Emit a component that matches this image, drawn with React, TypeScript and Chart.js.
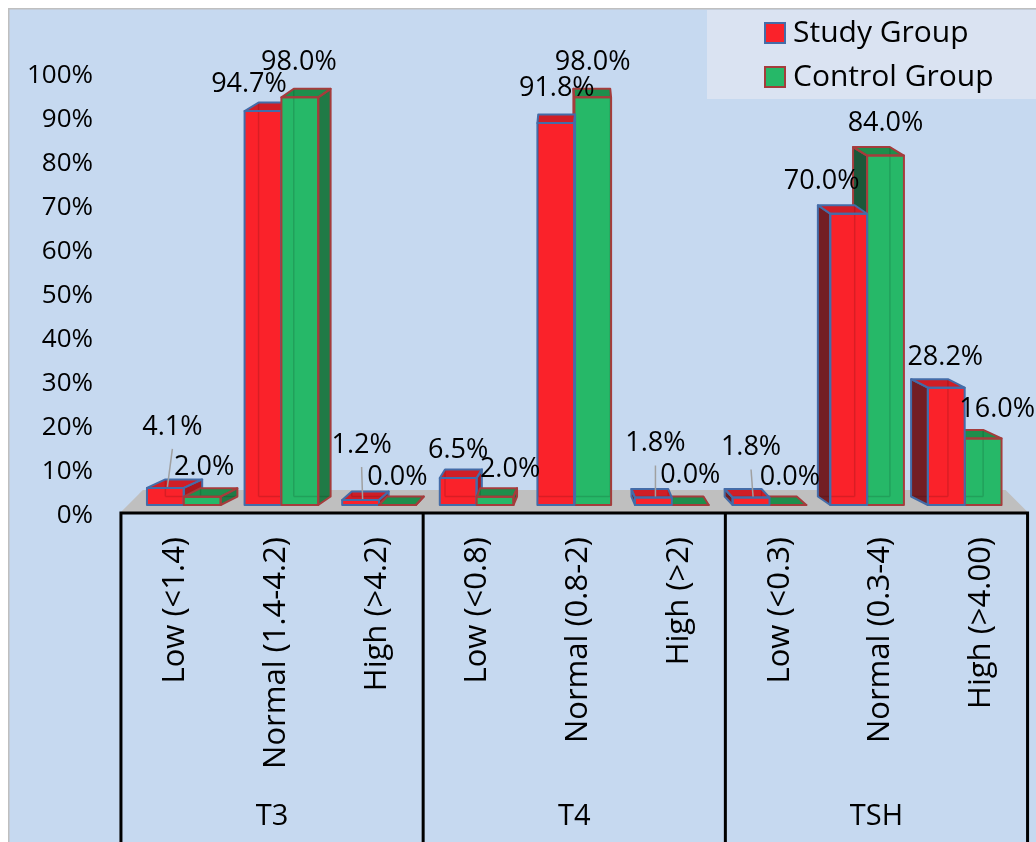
import React, { useEffect, useRef } from 'react';
import { Chart, registerables } from 'chart.js';

Chart.register(...registerables);

// ---------------- data ----------------
const categories = [
  'Low (<1.4)', 'Normal (1.4-4.2)', 'High (>4.2)',
  'Low (<0.8)', 'Normal (0.8-2)', 'High (>2)',
  'Low (<0.3)', 'Normal (0.3-4)', 'High (>4.00)',
];
const groupNames = ['T3', 'T4', 'TSH'];
const groupSize = 3;
const seriesLabels = ['Study Group', 'Control Group'];
const studyGroup = [4.1, 94.7, 1.2, 6.5, 91.8, 1.8, 1.8, 70.0, 28.2];
const controlGroup = [2.0, 98.0, 0.0, 2.0, 98.0, 0.0, 0.0, 84.0, 16.0];
const tickValues = [0, 10, 20, 30, 40, 50, 60, 70, 80, 90, 100];

// label nudges (Excel-style collision avoidance), relative to default spot above bar
const studyLabelShift = [[7, -32], [-14, 2], [1, -26], [0, 1], [1, -6], [2, -25], [0, -21], [-27, -3], [-1, -1]];
const controlLabelShift = [[2, 0], [-1, -6], [0, 1], [15, 2], [0, -6], [0, -1], [2, 1], [0, -3], [14, 0]];
const studyLeader = [true, false, true, false, false, true, true, false, false];

// ---------------- layout / style ----------------
const W = 1028;
const H = 834;
const FONT = '"Open Sans", "Noto Sans", sans-serif';
const VPX = 566;
const DEPTH_K = 0.045;
const DEPTH_DY = -8.5;
const FRONT_F = 1.032;
const BACK_F = 0.982;

const seriesStyle = [
  { front: 'rgb(250,34,42)', top: 'rgb(208,30,38)', rside: 'rgb(170,24,30)', lside: 'rgb(115,30,36)', edge: 'rgb(68,108,168)' },
  { front: 'rgb(38,184,104)', top: 'rgb(30,142,76)', rside: 'rgb(32,122,70)', lside: 'rgb(28,88,58)', edge: 'rgb(165,60,60)' },
];

const fx = (p: number) => VPX + (p - VPX) * FRONT_F;
const bx = (p: number) => VPX + (p - VPX) * BACK_F;

function poly(ctx: CanvasRenderingContext2D, pts: number[][]) {
  ctx.beginPath();
  ctx.moveTo(pts[0][0], pts[0][1]);
  for (let i = 1; i < pts.length; i++) ctx.lineTo(pts[i][0], pts[i][1]);
  ctx.closePath();
}

function drawBar(ctx: CanvasRenderingContext2D, el: any, st: any) {
  const x0 = el.x - el.width / 2;
  const x1 = el.x + el.width / 2;
  const yT = el.y;
  const yB = el.base;
  const dx = (VPX - el.x) * DEPTH_K;
  const dy = DEPTH_DY;
  ctx.save();
  ctx.lineJoin = 'round';
  let side: number[][] | null = null;
  if (Math.abs(dx) > 0.5) {
    const sx = dx > 0 ? x1 : x0;
    side = [[sx, yT], [sx + dx, yT + dy], [sx + dx, yB + dy], [sx, yB]];
    poly(ctx, side);
    ctx.fillStyle = dx > 0 ? st.rside : st.lside;
    ctx.fill();
  }
  const top = [[x0, yT], [x1, yT], [x1 + dx, yT + dy], [x0 + dx, yT + dy]];
  poly(ctx, top);
  ctx.fillStyle = st.top;
  ctx.fill();
  ctx.fillStyle = st.front;
  ctx.fillRect(x0, yT, x1 - x0, yB - yT);
  // faint hidden edges (semi-transparent look)
  ctx.strokeStyle = 'rgba(0,0,0,0.13)';
  ctx.lineWidth = 1.5;
  const hx = dx > 0 ? x0 + dx : x1 + dx;
  ctx.beginPath();
  ctx.moveTo(hx, yT + dy);
  ctx.lineTo(hx, yB + dy);
  ctx.moveTo(x0 + dx, yB + dy);
  ctx.lineTo(x1 + dx, yB + dy);
  ctx.stroke();
  // edges
  ctx.strokeStyle = st.edge;
  ctx.lineWidth = 2;
  if (side) { poly(ctx, side); ctx.stroke(); }
  poly(ctx, top);
  ctx.stroke();
  ctx.strokeRect(x0, yT, x1 - x0, yB - yT);
  ctx.restore();
}

const excel3d = {
  id: 'excel3d',
  beforeDraw(chart: any) {
    const ctx: CanvasRenderingContext2D = chart.ctx;
    ctx.save();
    ctx.fillStyle = '#C6D9F0';
    ctx.fillRect(0, 0, W, H);
    ctx.strokeStyle = '#BFBFBF';
    ctx.lineWidth = 1.5;
    ctx.beginPath();
    ctx.moveTo(0.75, H);
    ctx.lineTo(0.75, 0.75);
    ctx.lineTo(W, 0.75);
    ctx.stroke();
    // floor
    const xs = chart.scales.x;
    const yb = chart.scales.yb;
    const base = yb.getPixelForValue(0);
    const L = xs.getPixelForValue(-0.5);
    const R = xs.getPixelForValue(categories.length - 0.5);
    const frontY = base + 7;
    const backY = base - 15;
    poly(ctx, [[fx(L), frontY], [fx(R), frontY], [bx(R), backY], [bx(L), backY]]);
    ctx.fillStyle = 'rgb(191,191,191)';
    ctx.fill();
    ctx.restore();
  },
  afterDatasetsDraw(chart: any) {
    const ctx: CanvasRenderingContext2D = chart.ctx;
    const m0 = chart.getDatasetMeta(0).data;
    const m1 = chart.getDatasetMeta(1).data;
    for (let i = 0; i < categories.length; i++) {
      const r = m0[i];
      const g = m1[i];
      const pc = (r.x + g.x) / 2;
      if (VPX - pc >= 0) {
        drawBar(ctx, r, seriesStyle[0]);
        drawBar(ctx, g, seriesStyle[1]);
      } else {
        drawBar(ctx, g, seriesStyle[1]);
        drawBar(ctx, r, seriesStyle[0]);
      }
    }
    // data labels
    ctx.save();
    ctx.font = `27px ${FONT}`;
    ctx.fillStyle = '#000';
    ctx.textAlign = 'center';
    ctx.textBaseline = 'middle';
    const sets = [
      { meta: m0, vals: studyGroup, shift: studyLabelShift, leader: studyLeader },
      { meta: m1, vals: controlGroup, shift: controlLabelShift, leader: null as boolean[] | null },
    ];
    sets.forEach((s) => {
      s.meta.forEach((el: any, i: number) => {
        const lx = el.x + s.shift[i][0];
        const ly = el.y - 29 + s.shift[i][1];
        if (s.leader && s.leader[i]) {
          ctx.save();
          ctx.strokeStyle = 'rgb(160,160,160)';
          ctx.lineWidth = 1.5;
          ctx.beginPath();
          ctx.moveTo(lx, ly + 22);
          ctx.lineTo(el.x + 2, el.y - 1);
          ctx.stroke();
          ctx.restore();
        }
        ctx.fillText(s.vals[i].toFixed(1) + '%', lx, ly);
      });
    });
    ctx.restore();
  },
  afterDraw(chart: any) {
    const ctx: CanvasRenderingContext2D = chart.ctx;
    const xs = chart.scales.x;
    const yb = chart.scales.yb;
    const base = yb.getPixelForValue(0);
    const lineY = base + 8;
    ctx.save();
    // dividers
    ctx.strokeStyle = '#000';
    ctx.lineWidth = 3;
    ctx.beginPath();
    const L = fx(xs.getPixelForValue(-0.5));
    const R = fx(xs.getPixelForValue(categories.length - 0.5));
    ctx.moveTo(L, lineY);
    ctx.lineTo(R, lineY);
    for (let gIdx = 0; gIdx <= groupNames.length; gIdx++) {
      const x = fx(xs.getPixelForValue(gIdx * groupSize - 0.5));
      ctx.moveTo(x, lineY - 1.5);
      ctx.lineTo(x, H);
    }
    ctx.stroke();
    // category labels (rotated)
    ctx.fillStyle = '#000';
    ctx.font = `31px ${FONT}`;
    ctx.textAlign = 'right';
    ctx.textBaseline = 'middle';
    categories.forEach((c, i) => {
      const x = fx(xs.getPixelForValue(i)) + 4;
      ctx.save();
      ctx.translate(x, lineY + 24);
      ctx.rotate(-Math.PI / 2);
      ctx.fillText(c, 0, 0);
      ctx.restore();
    });
    // group labels
    ctx.font = `29px ${FONT}`;
    ctx.textAlign = 'center';
    groupNames.forEach((gname, gIdx) => {
      const a = fx(xs.getPixelForValue(gIdx * groupSize - 0.5));
      const b = fx(xs.getPixelForValue((gIdx + 1) * groupSize - 0.5));
      ctx.fillText(gname, (a + b) / 2, 809);
    });
    // legend
    ctx.fillStyle = 'rgb(218,227,242)';
    ctx.fillRect(699, 2, W - 699, 89);
    const items = [
      { label: seriesLabels[0], st: seriesStyle[0], y: 25 },
      { label: seriesLabels[1], st: seriesStyle[1], y: 69 },
    ];
    ctx.font = `30px ${FONT}`;
    ctx.textAlign = 'left';
    ctx.textBaseline = 'middle';
    items.forEach((it) => {
      ctx.fillStyle = it.st.front;
      ctx.fillRect(757, it.y - 10, 20, 20);
      ctx.strokeStyle = it.st.edge;
      ctx.lineWidth = 2;
      ctx.strokeRect(757, it.y - 10, 20, 20);
      ctx.fillStyle = '#000';
      ctx.fillText(it.label, 785, it.y);
    });
    ctx.restore();
  },
};

export default function App() {
  const ref = useRef<HTMLCanvasElement | null>(null);
  useEffect(() => {
    if (!ref.current) return;
    const chart = new Chart(ref.current, {
      type: 'bar',
      data: {
        labels: categories,
        datasets: [
          { label: seriesLabels[0], data: studyGroup, backgroundColor: 'rgba(0,0,0,0)', borderWidth: 0, yAxisID: 'yb' },
          { label: seriesLabels[1], data: controlGroup, backgroundColor: 'rgba(0,0,0,0)', borderWidth: 0, yAxisID: 'yb' },
        ],
      },
      options: {
        animation: false,
        responsive: false,
        maintainAspectRatio: false,
        layout: { padding: { top: 68, bottom: 326, left: 0, right: 22.5 } },
        plugins: { legend: { display: false }, tooltip: { enabled: false }, title: { display: false } },
        datasets: { bar: { categoryPercentage: 0.755, barPercentage: 1 } },
        scales: {
          x: { display: false, offset: true },
          y: {
            position: 'left',
            min: 0,
            max: 100,
            afterBuildTicks: (s: any) => { s.ticks = tickValues.map((v) => ({ value: v })); },
            afterFit: (s: any) => { s.width = 127; },
            ticks: {
              callback: (v: any) => v + '%',
              padding: 42,
              color: '#000',
              font: { family: FONT, size: 26 },
            },
            grid: { display: false, drawTicks: false },
            border: { display: false },
          },
          yb: { display: false, min: -2.644, max: 103.125 },
        },
      },
      plugins: [excel3d],
    } as any);
    return () => chart.destroy();
  }, []);
  return (
    <div style={{ position: 'fixed', left: 8, top: 8, width: W, height: H }}>
      <canvas ref={ref} width={W} height={H} style={{ width: W, height: H, display: 'block' }} />
    </div>
  );
}
